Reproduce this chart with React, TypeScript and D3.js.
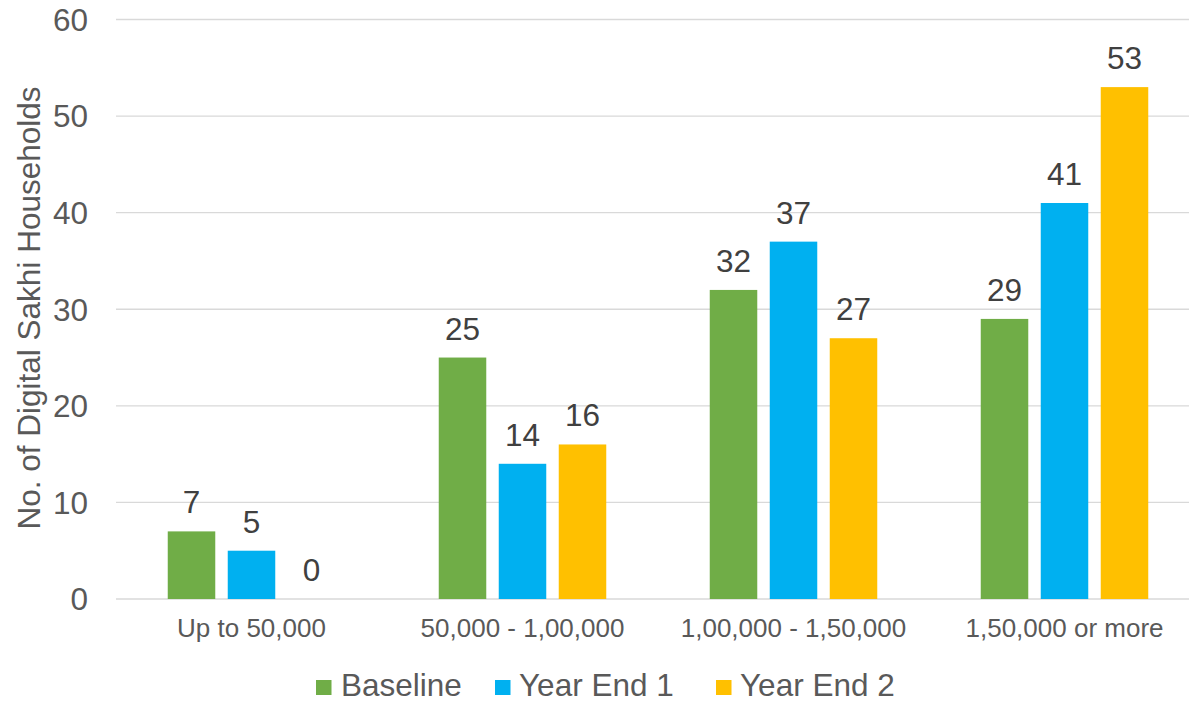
import React from "react";
import * as d3 from "d3";

const categories = ["Up to 50,000", "50,000 - 1,00,000", "1,00,000 - 1,50,000", "1,50,000 or more"];
const seriesNames = ["Baseline", "Year End 1", "Year End 2"];
const baseline = [7, 25, 32, 29];
const yearEnd1 = [5, 14, 37, 41];
const yearEnd2 = [0, 16, 27, 53];
const yTicks = [0, 10, 20, 30, 40, 50, 60];
const colors = ["#70AD47", "#00B0F0", "#FFC000"];

const W = 1189;
const H = 701;
const FONT = "'Liberation Sans', Arial, sans-serif";

export default function App() {
  const seriesValues = [baseline, yearEnd1, yearEnd2];

  const y = d3.scaleLinear().domain([0, 60]).range([599, 19.5]);
  const x0 = d3.scaleBand<string>().domain(categories).range([116, 1200]).padding(0);
  const x1 = d3
    .scaleBand<string>()
    .domain(seriesNames)
    .range([0, x0.bandwidth()])
    .paddingInner(0.208)
    .paddingOuter(0.8625);

  const legendItems = [
    { name: seriesNames[0], sq: 316, tx: 341 },
    { name: seriesNames[1], sq: 495, tx: 519 },
    { name: seriesNames[2], sq: 716, tx: 740 },
  ];

  return (
    <svg
      width={W}
      height={H}
      style={{ position: "absolute", left: 0, top: 0, background: "#fff" }}
      fontFamily={FONT}
    >
      {/* gridlines */}
      {yTicks.map((t) => (
        <line key={t} x1={116} x2={1200} y1={y(t)} y2={y(t)} stroke="#d9d9d9" strokeWidth={1.3} />
      ))}
      {/* y tick labels */}
      {yTicks.map((t) => (
        <text key={"t" + t} x={88} y={y(t)} dy="0.36em" textAnchor="end" fontSize={31.5} fill="#595959">
          {t}
        </text>
      ))}
      {/* y axis title */}
      <text
        transform={`translate(40,308) rotate(-90)`}
        textAnchor="middle"
        fontSize={31.5}
        fill="#595959"
      >
        No. of Digital Sakhi Households
      </text>
      {/* bars + value labels */}
      {categories.map((c, ci) => (
        <g key={c} transform={`translate(${x0(c)},0)`}>
          {seriesNames.map((s, si) => {
            const v = seriesValues[si][ci];
            const bx = x1(s)!;
            return (
              <g key={s}>
                {v > 0 && (
                  <rect x={bx} y={y(v)} width={x1.bandwidth()} height={y(0) - y(v)} fill={colors[si]} />
                )}
                <text
                  x={bx + x1.bandwidth() / 2}
                  y={y(v) - 18}
                  textAnchor="middle"
                  fontSize={31.5}
                  fill="#404040"
                >
                  {v}
                </text>
              </g>
            );
          })}
        </g>
      ))}
      {/* category labels */}
      {categories.map((c) => (
        <text
          key={"c" + c}
          x={x0(c)! + x0.bandwidth() / 2}
          y={637}
          textAnchor="middle"
          fontSize={26}
          fill="#595959"
        >
          {c}
        </text>
      ))}
      {/* legend */}
      {legendItems.map((it, i) => (
        <g key={it.name}>
          <rect x={it.sq} y={680} width={15.5} height={15} fill={colors[i]} />
          <text x={it.tx} y={695.5} fontSize={31.5} fill="#595959">
            {it.name}
          </text>
        </g>
      ))}
    </svg>
  );
}
